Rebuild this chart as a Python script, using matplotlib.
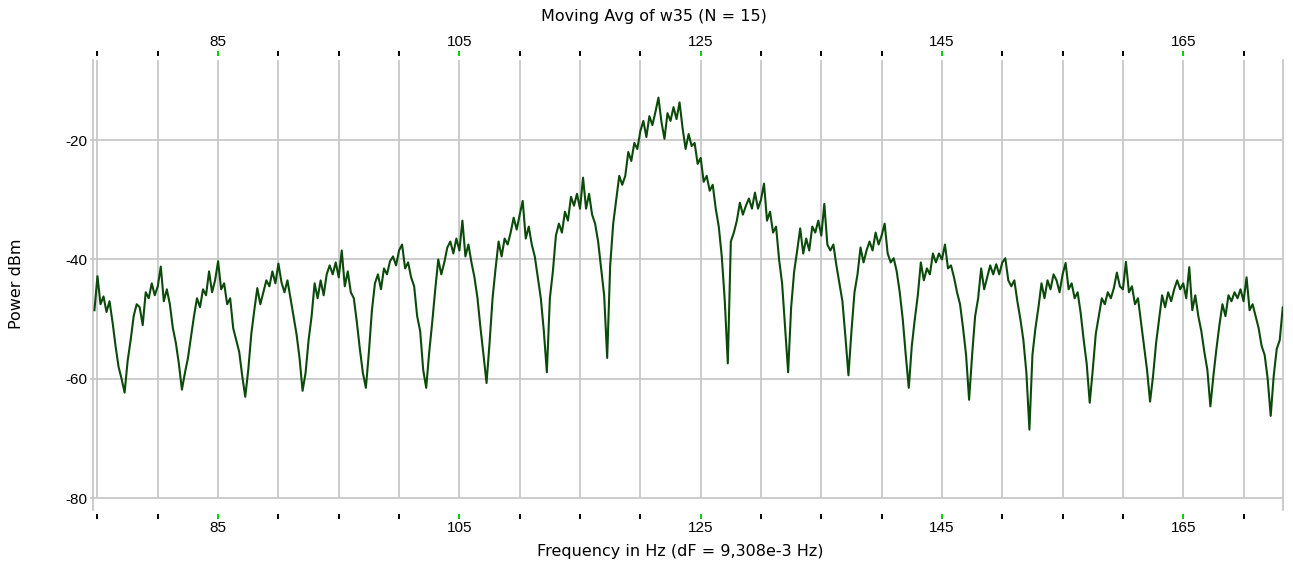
#!/usr/bin/env python3
"""Moving-average power spectrum of w35 around 125 Hz."""

import matplotlib

matplotlib.use("Agg")
import matplotlib.pyplot as plt
import numpy as np

plt.rcParams["font.family"] = ["Liberation Sans", "DejaVu Sans"]

TITLE = "Moving Avg of w35 (N = 15)"
X_LABEL = "Frequency in Hz (dF = 9,308e-3 Hz)"
Y_LABEL = "Power dBm"

# frequency axis sampling of the values below (Hz)
FREQ_START = 74.75
FREQ_STEP = 0.25

# power in dBm, every 0.25 Hz
POWER_DBM = [
    -48.5, -42.8, -47.5, -46.2, -48.8, -47.0, -50.5, -54.5, -58.0, -60.0,
    -62.3, -57.0, -53.5, -49.5, -47.5, -48.0, -51.0, -45.5, -46.5, -44.0,
    -46.0, -44.5, -41.2, -47.0, -45.0, -47.5, -51.5, -54.0, -57.5, -61.8,
    -59.0, -56.5, -53.0, -49.5, -46.5, -48.0, -45.0, -46.0, -42.0, -45.5,
    -43.5, -40.3, -45.0, -44.0, -47.5, -46.5, -51.5, -53.5, -55.5, -59.5,
    -63.0, -58.5, -52.5, -48.5, -44.8, -47.5, -45.5, -43.5, -44.5, -42.0,
    -44.0, -40.7, -43.8, -45.5, -43.5, -46.5, -49.5, -52.5, -56.5, -62.0,
    -59.0, -53.5, -49.5, -44.0, -46.5, -43.5, -46.0, -42.5, -41.0, -42.5,
    -40.5, -43.0, -38.5, -44.5, -42.0, -45.5, -46.5, -50.5, -55.0, -59.0,
    -61.5, -55.5, -48.5, -44.0, -42.5, -45.0, -41.5, -42.5, -40.3, -39.5,
    -41.0, -38.5, -37.5, -41.5, -40.5, -43.0, -44.5, -49.5, -52.0, -58.5,
    -61.5, -55.5, -50.5, -45.0, -40.0, -42.5, -40.5, -38.0, -37.0, -39.0,
    -36.5, -38.5, -33.5, -39.5, -37.5, -40.5, -43.0, -46.5, -51.5, -56.0,
    -60.7, -54.0, -46.5, -41.5, -37.0, -39.5, -36.5, -37.5, -35.5, -33.0,
    -35.0, -32.5, -30.2, -36.5, -34.5, -37.5, -39.5, -43.0, -46.5, -52.0,
    -58.9, -46.5, -42.0, -36.0, -34.0, -35.5, -32.0, -33.5, -29.5, -31.0,
    -29.0, -31.5, -26.3, -31.5, -29.0, -32.5, -34.0, -37.0, -41.5, -46.0,
    -56.5, -41.0, -34.0, -30.0, -26.0, -27.5, -26.0, -22.0, -23.5, -20.5,
    -21.5, -18.5, -16.8, -19.5, -16.0, -17.5, -15.3, -12.9, -17.0, -19.8,
    -15.5, -16.8, -14.5, -16.5, -13.7, -18.0, -21.5, -19.0, -21.0, -20.5,
    -24.0, -23.0, -27.0, -26.0, -28.5, -27.5, -31.5, -34.5, -39.5, -47.0,
    -57.4, -37.0, -35.5, -33.5, -30.5, -32.5, -31.0, -29.8, -31.5, -28.8,
    -31.5, -30.0, -27.3, -33.5, -32.0, -35.5, -34.5, -40.0, -44.0, -51.5,
    -58.9, -48.0, -42.0, -38.5, -34.8, -39.0, -36.5, -38.5, -34.5, -35.5,
    -33.5, -36.0, -30.7, -37.5, -38.5, -37.5, -41.0, -44.0, -47.0, -53.0,
    -59.4, -52.0, -45.5, -42.5, -38.0, -40.5, -38.5, -37.0, -38.5, -35.5,
    -37.5, -36.0, -34.0, -39.0, -40.5, -39.8, -42.0, -45.5, -50.0, -56.0,
    -61.5, -54.5, -50.0, -46.0, -40.5, -43.5, -41.5, -42.5, -39.0, -40.5,
    -39.0, -40.0, -37.5, -41.5, -41.0, -43.0, -45.5, -47.5, -51.5, -56.0,
    -63.5, -56.0, -49.5, -46.5, -41.5, -45.0, -43.0, -41.0, -42.5, -40.8,
    -42.5, -40.5, -39.8, -43.5, -44.5, -43.5, -47.0, -50.0, -53.5, -59.0,
    -68.5, -56.0, -51.5, -48.0, -44.0, -46.5, -43.5, -45.0, -42.5, -43.5,
    -45.5, -42.5, -40.6, -45.0, -44.0, -46.5, -45.5, -49.0, -53.5, -57.5,
    -64.0, -58.5, -52.5, -49.5, -46.5, -47.5, -45.5, -46.5, -44.8, -42.2,
    -44.5, -45.0, -40.4, -45.5, -44.5, -47.5, -46.5, -50.5, -54.5, -58.5,
    -63.8, -59.5, -54.0, -50.0, -46.0, -48.0, -45.5, -47.0, -45.0, -43.5,
    -45.0, -44.0, -46.5, -41.3, -48.5, -46.0, -49.5, -52.0, -55.5, -58.5,
    -64.6, -59.5, -55.0, -51.0, -47.5, -49.5, -46.0, -47.0, -45.5, -46.5,
    -45.0, -47.0, -43.0, -48.5, -47.5, -49.5, -51.5, -54.5, -56.0, -60.0,
    -66.2, -59.5, -55.0, -53.5, -48.0, -48.5,
]

X_TICKS = list(range(75, 171, 5))
X_LABELED = [85, 105, 125, 145, 165]
Y_TICKS = [-20, -40, -60, -80]

GRID = "#c8c8c8"
TRACE = "#0b4a0b"
LABEL_TICK = "#00d000"


def main() -> None:
    power = np.array(POWER_DBM)
    freq = FREQ_START + FREQ_STEP * np.arange(len(power))

    fig = plt.figure(figsize=(12.93, 5.64), dpi=100)
    ax = fig.add_axes([93 / 1293, 54 / 564, 1190 / 1293, 450 / 564])
    ax.set_xlim(74.63, 173.27)
    ax.set_ylim(-81.96, -6.6)

    # grid: vertical lines run down to the -80 line only
    ax.vlines(X_TICKS, -80, -6.6, color=GRID, linewidth=1.3, zorder=1)
    ax.hlines(Y_TICKS, 74.63, 173.27, color=GRID, linewidth=1.3, zorder=1)

    ax.plot(freq, power, color=TRACE, linewidth=1.5, zorder=3)

    for side in ("top", "bottom"):
        ax.spines[side].set_visible(False)
        ax.spines[side].set_position(("outward", 3))
    for side in ("left", "right"):
        ax.spines[side].set_color(GRID)
        ax.spines[side].set_linewidth(1.3)

    ax.set_xticks(X_TICKS)
    ax.set_xticklabels([str(t) if t in X_LABELED else "" for t in X_TICKS])
    ax.tick_params(axis="x", which="major", top=True, bottom=True,
                   labeltop=True, labelbottom=True, direction="out",
                   length=3.5, width=1.4, color="black", pad=1.5,
                   labelsize=11)

    ax.set_yticks(Y_TICKS)
    ax.set_yticklabels([str(t) for t in Y_TICKS])
    ax.tick_params(axis="y", direction="out", length=2, width=1.3,
                   color=GRID, pad=2, labelsize=11)

    # labelled frequencies get green tick marks
    fig.canvas.draw()
    for tick in ax.xaxis.get_major_ticks():
        if round(tick.get_loc()) in X_LABELED:
            tick.tick1line.set_markeredgecolor(LABEL_TICK)
            tick.tick2line.set_markeredgecolor(LABEL_TICK)

    text_font = ["DejaVu Sans"]
    fig.text(0.506, 0.970, TITLE, ha="center", va="center", fontsize=11.5,
             family=text_font)
    fig.text(0.526, 0.023, X_LABEL, ha="center", va="center", fontsize=11.5,
             family=text_font)
    fig.text(0.013, 0.4965, Y_LABEL, ha="center", va="center",
             rotation=90, fontsize=11.5, family=text_font)

    fig.savefig("out.png", dpi=100)
    plt.close(fig)


if __name__ == "__main__":
    main()
